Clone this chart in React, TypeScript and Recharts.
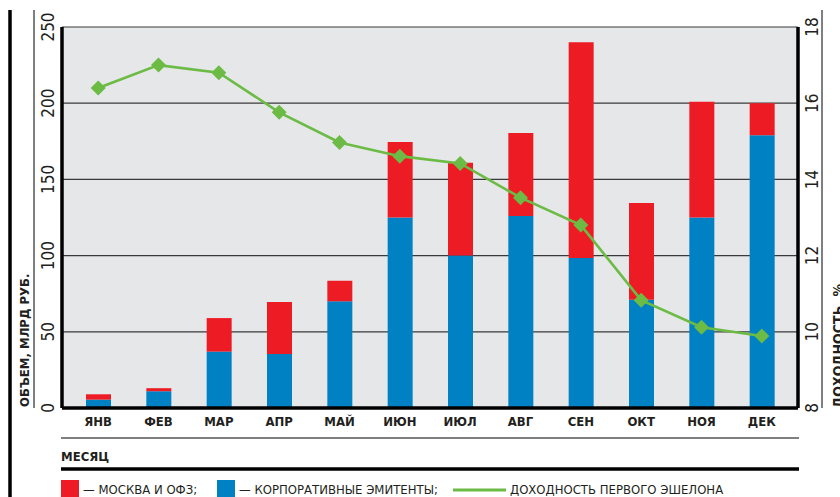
import { ComposedChart, Bar, Line, XAxis, YAxis, CartesianGrid } from 'recharts';

const months = ['ЯНВ', 'ФЕВ', 'МАР', 'АПР', 'МАЙ', 'ИЮН', 'ИЮЛ', 'АВГ', 'СЕН', 'ОКТ', 'НОЯ', 'ДЕК'];
const corporate = [5.5, 11, 37, 35.5, 70, 125, 100, 126, 98.5, 71, 125, 179];
const moscowOfz = [3.5, 2, 22, 34, 13.5, 49.5, 61, 54.5, 141.5, 63.5, 76, 21];
const yieldFirst = [16.4, 17.0, 16.8, 15.76, 14.97, 14.61, 14.42, 13.52, 12.8, 10.83, 10.12, 9.89];

const volumeTicks = [0, 50, 100, 150, 200, 250];
const yieldTicks = [8, 10, 12, 14, 16, 18];

const data = months.map((m, i) => ({
  month: m,
  corp: corporate[i],
  msk: moscowOfz[i],
  yld: yieldFirst[i],
}));

const FONT = "'DejaVu Sans Condensed', 'Liberation Sans Narrow', 'DejaVu Sans', sans-serif";
const INK = '#231f20';
const RED = '#ed1c24';
const BLUE = '#0081c4';
const GREEN = '#6cbb45';

const LeftTick = (props: any) => {
  const { x, y, payload } = props;
  return (
    <text
      transform={`translate(${x - 12},${y}) rotate(-90)`}
      textAnchor="middle"
      dominantBaseline="central"
      fontFamily={FONT}
      fontSize={17}
      fill={INK}
      style={{ fontStretch: 'condensed' }}
    >
      {payload.value}
    </text>
  );
};

const RightTick = (props: any) => {
  const { x, y, payload } = props;
  return (
    <text
      transform={`translate(${x + 12},${y}) rotate(-90)`}
      textAnchor="middle"
      dominantBaseline="central"
      fontFamily={FONT}
      fontSize={17}
      fill={INK}
      style={{ fontStretch: 'condensed' }}
    >
      {payload.value}
    </text>
  );
};

const MonthTick = (props: any) => {
  const { x, y, payload } = props;
  return (
    <text
      x={x}
      y={y + 11}
      textAnchor="middle"
      dominantBaseline="central"
      fontFamily={FONT}
      fontSize={13}
      fontWeight="bold"
      fill={INK}
      style={{ fontStretch: 'condensed' }}
    >
      {payload.value}
    </text>
  );
};

const Diamond = (props: any) => {
  const { cx, cy } = props;
  if (cx == null || cy == null) return null;
  const r = 7.5;
  return (
    <polygon
      points={`${cx},${cy - r} ${cx + r},${cy} ${cx},${cy + r} ${cx - r},${cy}`}
      fill={GREEN}
    />
  );
};

const textStyle = { fontFamily: FONT, fill: INK, fontStretch: 'condensed' } as any;

export default function App() {
  return (
    <div style={{ position: 'absolute', left: 0, top: 0, width: 840, height: 497, background: '#fff', overflow: 'hidden' }}>
      <ComposedChart
        width={840}
        height={497}
        data={data}
        margin={{ top: 27, right: 0, bottom: 59, left: 0 }}
        barSize={25}
      >
        <CartesianGrid fill="#e6e7e9" vertical={false} stroke="#3a3a3a" strokeWidth={1.2} yAxisId="left" />
        <XAxis
          dataKey="month"
          height={30}
          padding={{ left: 6, right: 6 }}
          tickLine={false}
          tickSize={0}
          axisLine={{ stroke: '#000', strokeWidth: 3.5 }}
          tick={<MonthTick />}
          interval={0}
        />
        <YAxis
          yAxisId="left"
          orientation="left"
          width={62}
          domain={[0, 250]}
          ticks={volumeTicks}
          tickLine={false}
          tickSize={0}
          axisLine={{ stroke: '#000', strokeWidth: 3.5 }}
          tick={<LeftTick />}
        />
        <YAxis
          yAxisId="right"
          orientation="right"
          width={42}
          domain={[8, 18]}
          ticks={yieldTicks}
          tickLine={false}
          tickSize={0}
          axisLine={{ stroke: '#000', strokeWidth: 3.5 }}
          tick={<RightTick />}
        />
        <Bar yAxisId="left" dataKey="corp" stackId="v" fill={BLUE} isAnimationActive={false} />
        <Bar yAxisId="left" dataKey="msk" stackId="v" fill={RED} isAnimationActive={false} />
        <Line
          yAxisId="right"
          dataKey="yld"
          type="linear"
          stroke={GREEN}
          strokeWidth={2.6}
          dot={<Diamond />}
          activeDot={false}
          isAnimationActive={false}
        />
      </ComposedChart>
      <svg
        width={840}
        height={497}
        style={{ position: 'absolute', left: 0, top: 0, pointerEvents: 'none' }}
      >
        <line x1={10} y1={10} x2={10} y2={497} stroke="#000" strokeWidth={3.5} />
        <line x1={34} y1={10} x2={34} y2={408} stroke="#000" strokeWidth={1} />
        <line x1={822} y1={10} x2={822} y2={408} stroke="#000" strokeWidth={1} />
        <line x1={61} y1={438} x2={799} y2={438} stroke="#000" strokeWidth={1.2} />
        <line x1={61} y1={469} x2={799} y2={469} stroke="#000" strokeWidth={3.5} />

        <text
          transform="translate(24,407) rotate(-90)"
          textAnchor="start"
          dominantBaseline="central"
          fontSize={13}
          fontWeight="bold"
          style={textStyle}
        >
          ОБЪЕМ, МЛРД РУБ.
        </text>
        <text
          transform="translate(843,408) rotate(-90)"
          textAnchor="start"
          fontSize={14}
          fontWeight="bold"
          style={textStyle}
        >
          ДОХОДНОСТЬ, %
        </text>
        <text x={61} y={456} dominantBaseline="central" fontSize={13} fontWeight="bold" style={textStyle}>
          МЕСЯЦ
        </text>

        <rect x={61} y={480} width={18} height={17} fill={RED} />
        <text x={83} y={489} dominantBaseline="central" fontSize={13} style={textStyle}>
          — МОСКВА И ОФЗ;
        </text>
        <rect x={217} y={480} width={18} height={17} fill={BLUE} />
        <text x={239} y={489} dominantBaseline="central" fontSize={13} style={textStyle}>
          — КОРПОРАТИВНЫЕ ЭМИТЕНТЫ;
        </text>
        <line x1={453} y1={490} x2={506} y2={490} stroke={GREEN} strokeWidth={3} />
        <text x={510} y={489} dominantBaseline="central" fontSize={13} style={textStyle}>
          ДОХОДНОСТЬ ПЕРВОГО ЭШЕЛОНА
        </text>
      </svg>
    </div>
  );
}
